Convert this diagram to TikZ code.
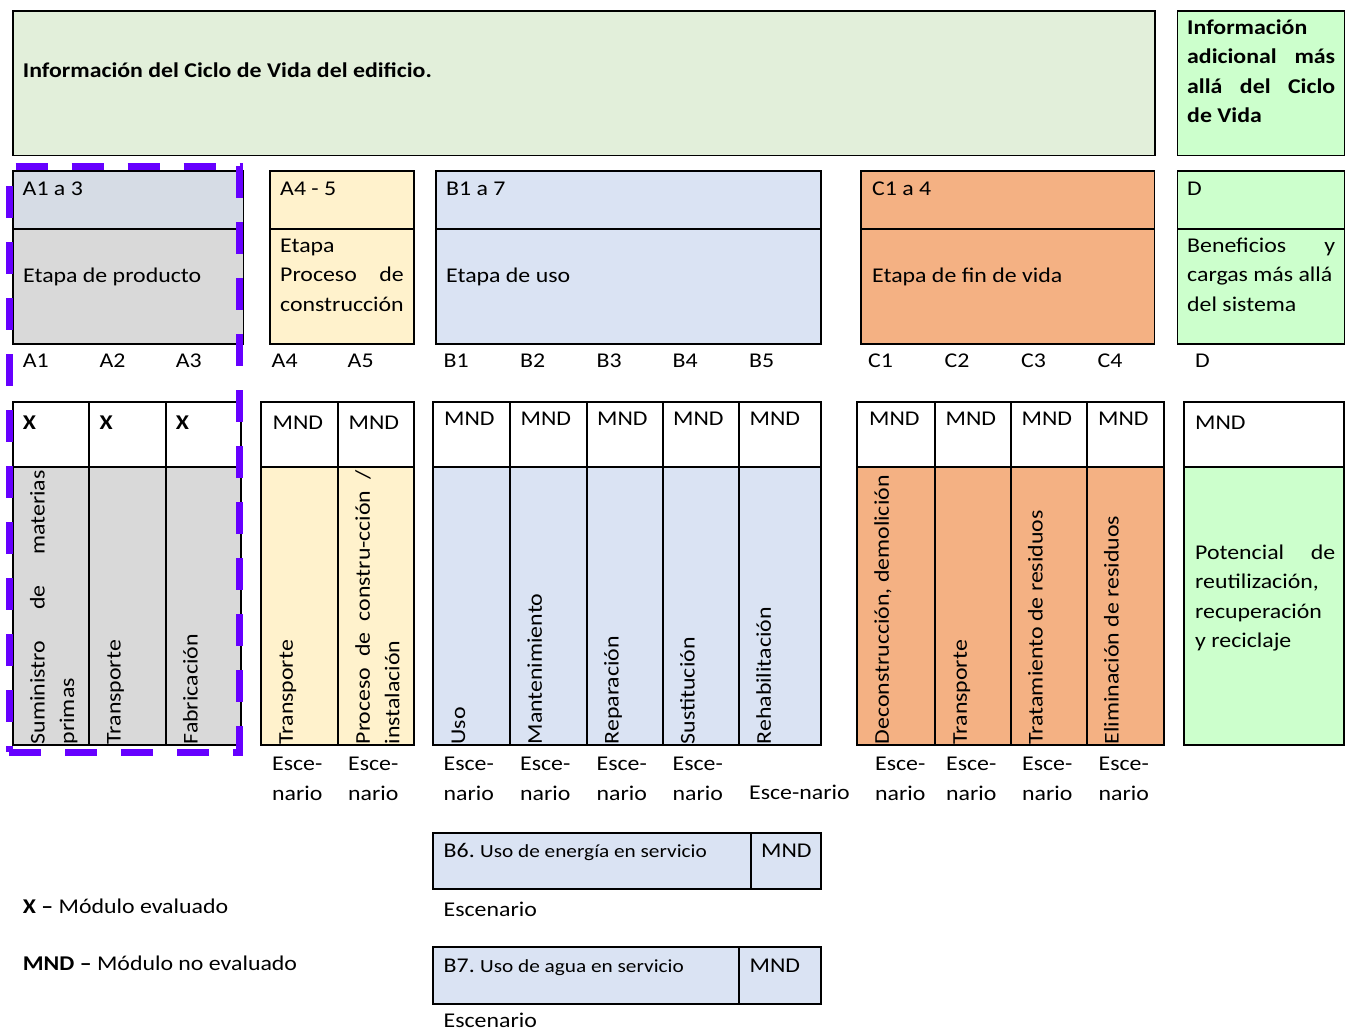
\documentclass[tikz,border=0pt]{standalone}
\usepackage{fontspec}
\setmainfont{Carlito}[FakeStretch=1.135]
\newfontfamily\smallfam{Carlito}[FakeStretch=1.15]
\newcommand\fsmain{\fontsize{21}{29.5}\selectfont}
\newcommand\fssmall{\smallfam\fontsize{18.5}{22}\selectfont}
\newcommand\jline[1]{\makebox[\linewidth][s]{#1}}
\definecolor{hdrgreen}{HTML}{E2EFDA}
\definecolor{dgreen}{HTML}{CCFFCC}
\definecolor{agrayblue}{HTML}{D6DCE5}
\definecolor{agray}{HTML}{D9D9D9}
\definecolor{yel}{HTML}{FFF2CC}
\definecolor{blu}{HTML}{DAE3F3}
\definecolor{ora}{HTML}{F4B183}
\definecolor{purp}{HTML}{6600FF}
\begin{document}
\begin{tikzpicture}[x=1pt,y=-1pt,
  cell/.style={draw=black,line width=1.8pt},
  txt/.style={inner sep=0pt,anchor=base west,font=\fsmain},
  par/.style={inner sep=0pt,anchor=north west,align=flush left,font=\fsmain,text width=#1},
  rot/.style={inner sep=0pt,anchor=north west,align=flush left,font=\fsmain,text width=274pt,rotate=90},
  esc/.style={inner sep=0pt,anchor=north west,align=flush left,font=\fsmain},
  sel/.style={draw=purp,line width=7pt,dash pattern=on 32pt off 24pt}]
\useasboundingbox (0,0) rectangle (1347,1031);
% ---------- top row
\draw[cell,fill=hdrgreen] (12.7,11) rectangle (1155,155.5);
\node[txt,font=\fsmain\bfseries] (hdr) at (22.7,77.5) {Información del Ciclo de Vida del edificio.};
\draw[cell,fill=dgreen] (1177.5,11) rectangle (1344.5,155.5);
\node[par=148pt,font=\fsmain\bfseries] (hdrD) at (1187,13.35) {\strut Información\\\jline{adicional más}\\\jline{allá del Ciclo}\\de Vida};
% ---------- stage row
\draw[cell,fill=agrayblue] (12.7,171) rectangle (243.5,229.3);
\draw[cell,fill=agray] (12.7,229.3) rectangle (243.5,344);
\draw[cell,fill=yel] (270,171) rectangle (414.3,344);
\draw[cell] (270,229.3) -- (414.3,229.3);
\draw[cell,fill=blu] (435.7,171) rectangle (821,344);
\draw[cell] (435.7,229.3) -- (821,229.3);
\draw[cell,fill=ora] (861,171) rectangle (1154.5,344);
\draw[cell] (861,229.3) -- (1154.5,229.3);
\draw[cell,fill=dgreen] (1177.5,171) rectangle (1344.5,344);
\draw[cell] (1177.5,229.3) -- (1344.5,229.3);
\node[txt] (hA) at (22.5,195) {A1 a 3};
\node[txt] (hA45) at (280,195) {A4 - 5};
\node[txt] (hB) at (446,195) {B1 a 7};
\node[txt] (hC) at (872,195) {C1 a 4};
\node[txt] (hD) at (1187,195) {D};
\node[txt] (sA) at (23,282) {Etapa de producto};
\node[par=123.5pt] (sA45) at (280,231.35) {\strut Etapa\\\jline{Proceso de}\\construcción};
\node[txt] (sB) at (446,282) {Etapa de uso};
\node[txt] (sC) at (872,282) {Etapa de fin de vida};
\node[par=148pt] (sD) at (1187,231.35) {\strut\jline{Beneficios y}\\cargas más allá\\del sistema};
% ---------- module labels
\foreach \n/\x in {A1/22.7,A2/99.3,A3/175.7,A4/271.5,A5/347.5,B1/443.5,B2/520,B3/596.5,B4/672.5,B5/749,C1/868,C2/944.5,C3/1021,C4/1097.5}
  \node[txt] (l\n) at (\x,367.5) {\n};
\node[txt] (lD) at (1195,367.5) {D};
% ---------- module table
\foreach \xa/\xb in {12.7/88.7,88.7/165.7,165.7/241}{
  \draw[cell] (\xa,401.7) rectangle (\xb,466.7);
  \draw[cell,fill=agray] (\xa,466.7) rectangle (\xb,745.3);}
\foreach \xa/\xb in {261/338,338/414}{
  \draw[cell] (\xa,401.7) rectangle (\xb,466.7);
  \draw[cell,fill=yel] (\xa,466.7) rectangle (\xb,745.3);}
\foreach \xa/\xb in {433.3/510,510/586.7,586.7/662.7,662.7/739,739/820.7}{
  \draw[cell] (\xa,401.7) rectangle (\xb,466.7);
  \draw[cell,fill=blu] (\xa,466.7) rectangle (\xb,745.3);}
\foreach \xa/\xb in {857/935,935/1010.7,1010.7/1086.7,1086.7/1164}{
  \draw[cell] (\xa,401.7) rectangle (\xb,466.7);
  \draw[cell,fill=ora] (\xa,466.7) rectangle (\xb,745.3);}
\draw[cell] (1184,401.7) rectangle (1344,466.7);
\draw[cell,fill=dgreen] (1184,466.7) rectangle (1344,745.3);
% marks
\foreach \n/\x in {1/22.7,2/99.3,3/175.7}
  \node[txt,font=\fsmain\bfseries] (xA\n) at (\x,429) {X};
\foreach \n/\x in {4/272.5,5/348.5}
  \node[txt] (mA\n) at (\x,429.5) {MND};
\foreach \n/\x in {1/444,2/520.5,3/597,4/673,5/749.5}
  \node[txt] (mB\n) at (\x,425.5) {MND};
\foreach \n/\x in {1/869,2/945.5,3/1021.5,4/1098}
  \node[txt] (mC\n) at (\x,425.5) {MND};
\node[txt] (mD) at (1195,429.5) {MND};
% rotated descriptions
\node[rot] (dA1) at (23.7,744.5) {\strut\jline{Suministro de materias}\\primas};
\node[rot] (dA2) at (99.7,744.5) {\strut Transporte};
\node[rot] (dA3) at (176.7,744.5) {\strut Fabricación};
\node[rot] (dA4) at (272,744.5) {\strut Transporte};
\node[rot] (dA5) at (349,744.5) {\strut\jline{Proceso de constru-cción /}\\instalación};
\node[rot] (dB1) at (444.3,744.5) {\strut Uso};
\node[rot] (dB2) at (521,744.5) {\strut Mantenimiento};
\node[rot] (dB3) at (597.7,744.5) {\strut Reparación};
\node[rot] (dB4) at (673.7,744.5) {\strut Sustitución};
\node[rot] (dB5) at (750,744.5) {\strut Rehabilitación};
\node[rot] (dC1) at (868,744.5) {\strut Deconstrucción, demolición};
\node[rot] (dC2) at (946,744.5) {\strut Transporte};
\node[rot] (dC3) at (1021.7,744.5) {\strut Tratamiento de residuos};
\node[rot] (dC4) at (1097.7,744.5) {\strut Eliminación de residuos};
\node[par=140pt] (dD) at (1195,538.35) {\strut\jline{Potencial de}\\reutilización,\\recuperación\\y reciclaje};
% scenarios
\foreach \n/\x in {A4/272,A5/348,B1/443.5,B2/520,B3/596.5,B4/672.5,C1/875,C2/946,C3/1022,C4/1098.5}
  \node[esc] (e\n) at (\x,749.85) {\strut Esce-\\nario};
\node[txt] (eB5) at (749,799) {\mbox{Esce-nario}};
% B6 / B7
\draw[cell,fill=blu] (433.3,832.7) rectangle (821,889.3);
\draw[cell] (751.3,832.7) -- (751.3,889.3);
\node[txt] (b6) at (443.5,857.5) {B6.\ {\fssmall Uso de energía en servicio}};
\node[txt] (b6m) at (761,857.5) {MND};
\node[txt] (b6e) at (443.5,916) {Escenario};
\draw[cell,fill=blu] (433.3,946.7) rectangle (821,1004.3);
\draw[cell] (739.3,946.7) -- (739.3,1004.3);
\node[txt] (b7) at (443.5,972) {B7.\ {\fssmall Uso de agua en servicio}};
\node[txt] (b7m) at (749.5,972) {MND};
\node[txt] (b7e) at (443.5,1027) {Escenario};
% legend
\node[txt] (legX) at (22.7,913.5) {\textbf{X –} Módulo evaluado};
\node[txt] (legM) at (22.7,970.5) {\textbf{MND –} Módulo no evaluado};
% selection frame
\coordinate (fTL) at (9.5,166);
\coordinate (fTR) at (239.7,166);
\coordinate (fBR) at (239.7,752);
\coordinate (fBL) at (9.5,752);
\draw[sel,dash phase=46.5pt] ([xshift=-3.5pt]fTL) -- ([xshift=3.5pt]fTR);
\draw[sel,dash phase=0pt] (fTR) -- (fBR);
\draw[sel,dash phase=53pt] ([xshift=-3.5pt]fBL) -- ([xshift=3.5pt]fBR);
\draw[sel,dash phase=36pt] (fTL) -- (fBL);
\end{tikzpicture}
\end{document}
